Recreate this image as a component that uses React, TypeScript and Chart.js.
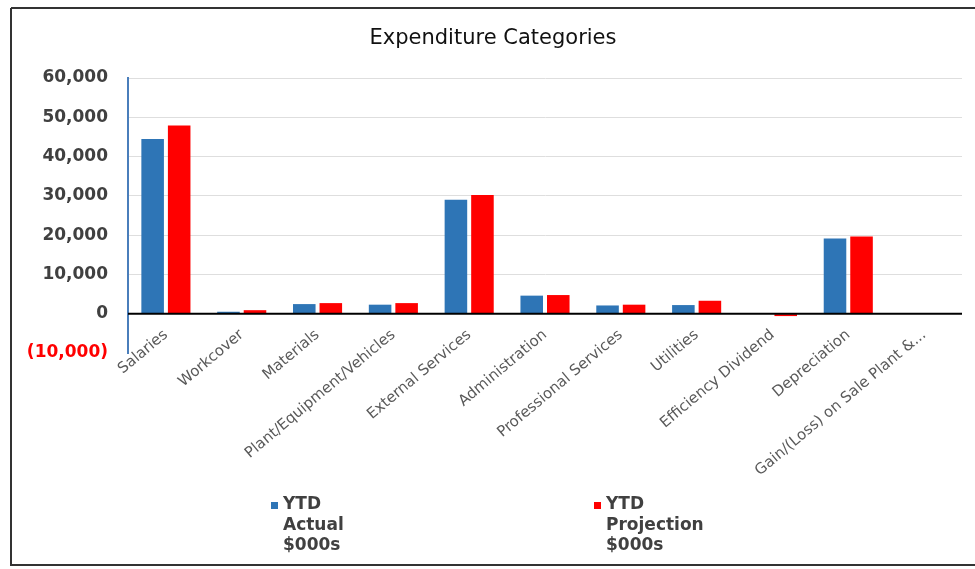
import React, { useEffect, useRef } from "react";
import { Chart, registerables } from "chart.js";

Chart.register(...registerables);

const categories = [
  "Salaries",
  "Workcover",
  "Materials",
  "Plant/Equipment/Vehicles",
  "External Services",
  "Administration",
  "Professional Services",
  "Utilities",
  "Efficiency Dividend",
  "Depreciation",
  "Gain/(Loss) on Sale Plant &...",
];

const ytdActual = [44500, 500, 2450, 2300, 29000, 4600, 2100, 2200, 0, 19150, 0];
const ytdProjection = [47900, 900, 2700, 2700, 30250, 4750, 2300, 3300, -600, 19650, 0];

const seriesLabels = ["YTD Actual $000s", "YTD Projection $000s"];
const seriesColors = ["#2E75B6", "#FF0000"];

const yMin = -10000;
const yMax = 60000;
const yStep = 10000;

const FONT = "'DejaVu Sans', 'Liberation Sans', Arial, sans-serif";

const fmt = (v: number) => {
  const s = Math.abs(v).toLocaleString("en-US");
  return v < 0 ? `(${s})` : s;
};

const backgroundAndFrame = {
  id: "backgroundAndFrame",
  beforeDraw(chart: any) {
    const { ctx, width, height } = chart;
    ctx.save();
    ctx.fillStyle = "#ffffff";
    ctx.fillRect(0, 0, width, height);
    ctx.restore();
  },
  afterDraw(chart: any) {
    const { ctx, width } = chart;
    ctx.save();
    ctx.strokeStyle = "#333333";
    ctx.lineWidth = 2;
    ctx.beginPath();
    ctx.moveTo(11, 8);
    ctx.lineTo(width, 8);
    ctx.moveTo(11, 8);
    ctx.lineTo(11, 566);
    ctx.moveTo(11, 565);
    ctx.lineTo(width, 565);
    ctx.stroke();
    ctx.restore();
  },
};

const zeroLine = {
  id: "zeroLine",
  afterDatasetsDraw(chart: any) {
    const { ctx, chartArea, scales } = chart;
    const y = scales.y.getPixelForValue(0);
    ctx.save();
    ctx.strokeStyle = "#000000";
    ctx.lineWidth = 2;
    ctx.beginPath();
    ctx.moveTo(chartArea.left, y);
    ctx.lineTo(chartArea.right, y);
    ctx.stroke();
    ctx.restore();
  },
};

const excelLegend = {
  id: "excelLegend",
  afterDraw(chart: any) {
    const { ctx, chartArea } = chart;
    const xOffsets = [155, 478];
    const lineGap = 20.5;
    const firstLine = 152;
    ctx.save();
    ctx.font = `bold 17px ${FONT}`;
    ctx.textBaseline = "middle";
    ctx.textAlign = "left";
    chart.data.datasets.forEach((ds: any, i: number) => {
      const x = chartArea.left + xOffsets[i];
      const y0 = chartArea.bottom + firstLine;
      ctx.fillStyle = ds.backgroundColor;
      ctx.fillRect(x - 12, y0 - 3, 7, 7);
      ctx.fillStyle = "#404040";
      String(ds.label)
        .split(" ")
        .forEach((w: string, j: number) => {
          ctx.fillText(w, x, y0 + j * lineGap);
        });
    });
    ctx.restore();
  },
};

export default function App() {
  const ref = useRef<HTMLCanvasElement | null>(null);

  useEffect(() => {
    document.body.style.margin = "0";
    if (!ref.current) return;
    const chart = new Chart(ref.current, {
      type: "bar",
      data: {
        labels: categories,
        datasets: [
          {
            label: seriesLabels[0],
            data: ytdActual,
            backgroundColor: seriesColors[0],
            categoryPercentage: 0.7,
            barPercentage: 0.85,
          },
          {
            label: seriesLabels[1],
            data: ytdProjection,
            backgroundColor: seriesColors[1],
            categoryPercentage: 0.7,
            barPercentage: 0.85,
          },
        ],
      },
      options: {
        responsive: false,
        animation: false,
        layout: { padding: { left: 24, right: 13, top: 0, bottom: 86 } },
        plugins: {
          legend: { display: false },
          tooltip: { enabled: false },
          title: {
            display: true,
            text: "Expenditure Categories",
            color: "#111111",
            font: { family: FONT, size: 21, weight: "normal" },
            padding: { top: 26.4, bottom: 26.4 },
          },
        },
        scales: {
          x: {
            grid: { display: false },
            border: { display: false },
            ticks: {
              autoSkip: false,
              minRotation: 40,
              maxRotation: 40,
              padding: -35,
              color: "#595959",
              font: { family: FONT, size: 15 },
            },
            afterFit(scale: any) {
              scale.height = 130;
              scale._computeLabelArea = () => undefined;
            },
          },
          y: {
            min: yMin,
            max: yMax,
            grid: {
              drawTicks: false,
              color: (c: any) =>
                c.tick && (c.tick.value === 0 || c.tick.value < 0) ? "rgba(0,0,0,0)" : "#dedede",
              lineWidth: 1,
            },
            border: { display: true, color: "#4a7ebb", width: 2 },
            ticks: {
              stepSize: yStep,
              padding: 20,
              color: (c: any) => (c.tick && c.tick.value < 0 ? "#ff0000" : "#404040"),
              font: { family: FONT, size: 17, weight: "bold" },
              callback: (v: any) => fmt(Number(v)),
            },
            afterFit(scale: any) {
              scale.width = 104;
            },
          },
        },
      },
      plugins: [backgroundAndFrame, zeroLine, excelLegend],
    });
    return () => chart.destroy();
  }, []);

  return (
    <div style={{ width: 975, height: 569, position: "relative" }}>
      <canvas ref={ref} width={975} height={569} />
    </div>
  );
}
